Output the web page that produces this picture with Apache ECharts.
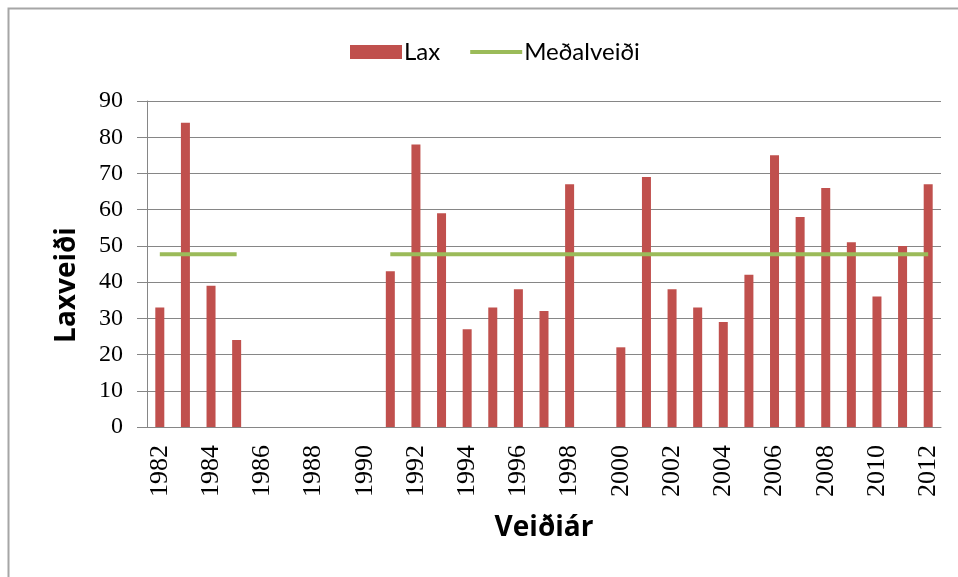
<!DOCTYPE html>
<html>
<head>
<meta charset="utf-8">
<style>
html,body{margin:0;padding:0;background:#fff;}
#chart{width:958px;height:577px;}
</style>
<script src="https://cdn.jsdelivr.net/npm/echarts@6/dist/echarts.min.js"></script>
</head>
<body>
<div id="chart"></div>
<script>
var years = ['1982','1983','1984','1985','1986','1987','1988','1989','1990','1991','1992','1993','1994','1995','1996','1997','1998','1999','2000','2001','2002','2003','2004','2005','2006','2007','2008','2009','2010','2011','2012'];
var lax = [33,84,39,24,null,null,null,null,null,43,78,59,27,33,38,32,67,null,22,69,38,33,29,42,75,58,66,51,36,50,67];
var medalveidi = [47.7,47.7,47.7,47.7,null,null,null,null,null,47.7,47.7,47.7,47.7,47.7,47.7,47.7,47.7,47.7,47.7,47.7,47.7,47.7,47.7,47.7,47.7,47.7,47.7,47.7,47.7,47.7,47.7];

var chart = echarts.init(document.getElementById('chart'), null, {renderer:'canvas'});
chart.setOption({
  backgroundColor:'#ffffff',
  animation:false,
  graphic:[{
    type:'rect', silent:true, z:-1,
    shape:{x:8.5,y:8.5,width:1200,height:1200},
    style:{fill:'none',stroke:'#a6a6a6',lineWidth:2}
  }],
  legend:{
    top:35, left:345,
    itemGap:30,
    itemWidth:52, itemHeight:14,
    textStyle:{fontFamily:'Lato',fontSize:24,color:'#000',padding:[0,0,0,-3]},
    data:[
      {name:'Lax', icon:'rect'},
      {name:'Meðalveiði', icon:'path://M0,0 L52,0 L52,4 L0,4 Z', itemStyle:{color:'#9BBB59'}}
    ]
  },
  grid:{left:147,right:17,top:101,bottom:150,containLabel:false},
  xAxis:{
    type:'category',
    data:years,
    name:'Veiðiár',
    nameLocation:'middle',
    nameGap:87,
    nameTextStyle:{fontFamily:'Open Sans',fontWeight:'bold',fontSize:28,color:'#000'},
    axisLine:{lineStyle:{color:'#868686',width:1}},
    axisTick:{show:false},
    axisLabel:{interval:1,rotate:90,margin:18,fontFamily:'Liberation Serif',fontSize:26,color:'#000'}
  },
  yAxis:{
    type:'value',
    min:0,max:90,interval:10,
    name:'Laxveiði',
    nameLocation:'middle',
    nameGap:66,
    nameTextStyle:{fontFamily:'Open Sans',fontWeight:'bold',fontSize:28,color:'#000',padding:[0,42,0,0]},
    axisLine:{show:true,lineStyle:{color:'#868686',width:1}},
    axisTick:{show:true,length:10,lineStyle:{color:'#868686'}},
    axisLabel:{margin:24,fontFamily:'Liberation Serif',fontSize:24,color:'#000'},
    splitLine:{show:true,lineStyle:{color:'#868686',width:1}}
  },
  series:[
    {
      name:'Lax', type:'bar', data:lax, barWidth:9,
      itemStyle:{color:'#C0504D'}, z:2
    },
    {
      name:'Meðalveiði', type:'line', data:medalveidi,
      showSymbol:false, symbol:'none', connectNulls:false,
      lineStyle:{color:'#9BBB59',width:4}, itemStyle:{color:'#9BBB59'}, z:3
    }
  ]
});
</script>
</body>
</html>
